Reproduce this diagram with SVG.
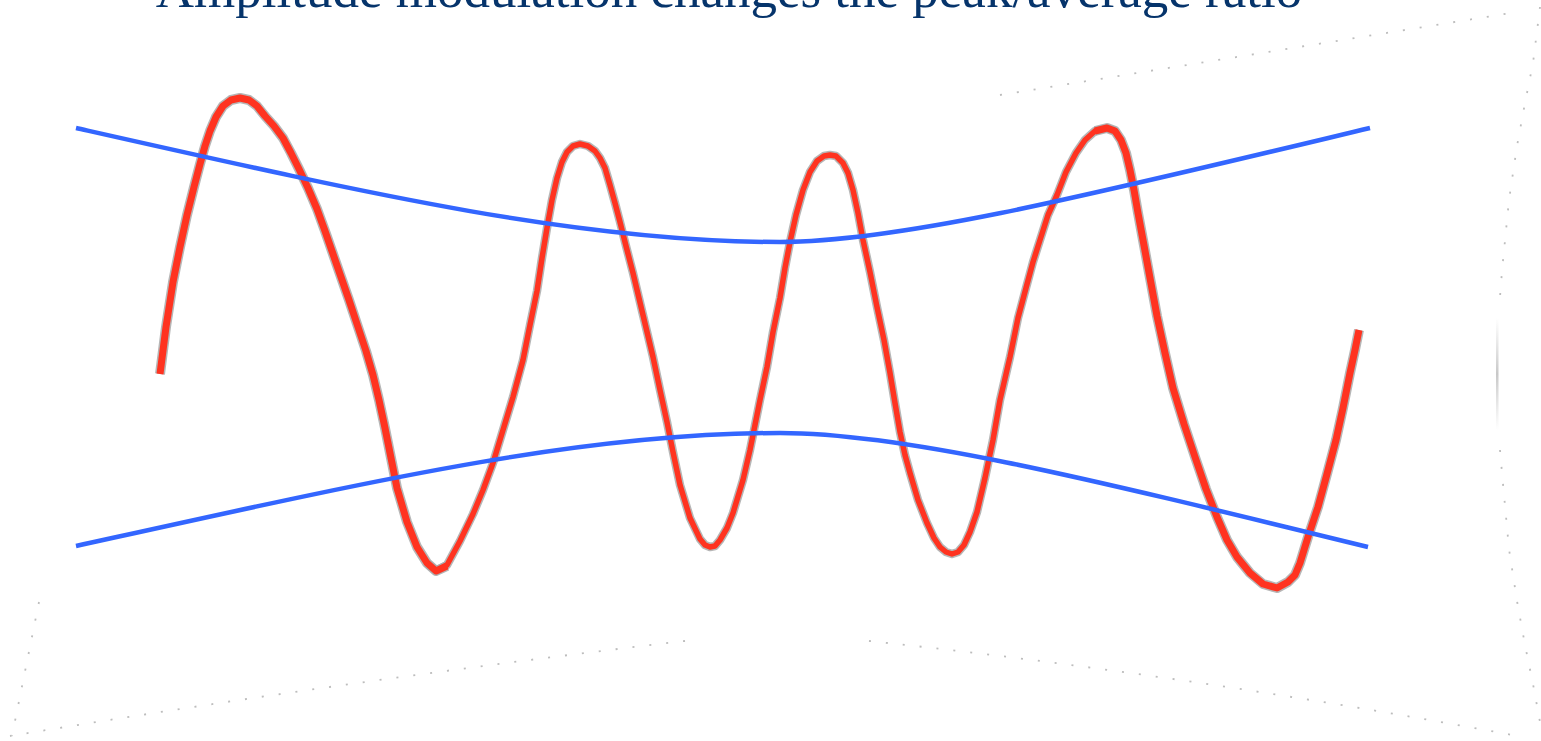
<svg xmlns="http://www.w3.org/2000/svg" width="1541" height="741" viewBox="0 0 1541 741">
  <defs>
    <style>
      .title { font-family: "Liberation Serif", "Times New Roman", serif; font-size: 53px; fill: #06346b; }
      .frame { fill: none; stroke: #bdbdbd; stroke-width: 1.8; stroke-dasharray: 2 15; }
      .halo { fill: none; stroke: #a9a9a9; stroke-linejoin: round; stroke-linecap: butt; opacity: 0.85; }
      .sig { fill: none; stroke: #ff3320; stroke-linejoin: round; stroke-linecap: butt; }
      .env { fill: none; stroke: #3366ff; stroke-width: 4.5; stroke-linecap: butt; }
    </style>
    <linearGradient id="barGrad" x1="0" y1="0" x2="0" y2="1">
      <stop offset="0" stop-color="#d0d0d0" stop-opacity="0"/>
      <stop offset="0.5" stop-color="#c8c8c8" stop-opacity="1"/>
      <stop offset="1" stop-color="#d0d0d0" stop-opacity="0"/>
    </linearGradient>
  </defs>

  <rect width="1541" height="741" fill="#ffffff"/>

  <g id="frame">
    <path class="frame" d="M1000,95 L1517,12"/>
    <path class="frame" d="M1540,7 L1533,63 L1525,103 L1517,146 L1509,200 L1502,271 L1499,310"/>
    <rect x="1496" y="318" width="2.5" height="112" fill="url(#barGrad)"/>
    <path class="frame" d="M1500,450 L1502,473 L1509,549 L1517,601 L1525,645 L1533,684 L1540,722"/>
    <path class="frame" d="M869,641 Q1190,675 1518,736"/>
    <path class="frame" d="M685,641 Q350,680 10,736"/>
    <path class="frame" d="M39,602 L12,736"/>
  </g>

  <g id="title">
    <text class="title" x="729" y="7" text-anchor="middle">Amplitude modulation changes the peak/average ratio</text>
  </g>

  <g id="signal">
    <polyline class="halo" stroke-width="10" points="160,374 166,327 173,282 180,247 187,215 194,187 200,164 205,146 210,131 216,117 223,106 231,100 240,98 249,100 257,106 265,116 274,126 283,138 291,153 299,169 308,188 317,209 325,231 333,254 341,277 349,300 357,324 366,351 373,375 379,400 385,428 391,458 397,488 407,522 417,547 427,563 436,571 447,566"/>
    <polyline class="halo" stroke-width="8.5" points="427,563 436,571 447,565 460,541 473,514 483,490 493,463 503,430 513,397 523,360 530,325 537,291 542,258 547,228 552,200 557,178 562,162 567,152 573,146 580,144 588,146 595,151 600,158 605,168 610,185 615,203 620,222 626,246 633,273 643,315 653,357 660,390 667,422 673,452 680,485 690,518 700,539 705,545 710,547 715,546 720,540 727,528 733,513 743,480 750,450 760,400 767,367 773,332 780,298 785,268 790,242 796,215 803,190 810,172 817,161 824,156 830,155 836,156 843,163 848,173 853,190 858,213 863,240 870,272 877,307 884,340 890,373 895,403 900,432 905,455 910,473 918,500 927,523 934,538 940,547 946,552 952,554 958,552 964,545 970,532 977,512 985,478 993,440 1000,400 1010,357 1018,318 1026,288 1033,262 1040,240 1048,215 1057,195 1066,172 1076,153 1085,140 1095,131 1107,128 1115,131"/>
    <polyline class="halo" stroke-width="10" points="1095,131 1107,128 1115,131 1121,140 1126,153 1130,170 1134,190 1138,213 1143,240 1150,278 1157,316 1165,353 1173,388 1184,424 1195,457 1206,489 1217,517 1227,540 1237,557 1250,573 1263,584 1277,588 1288,582 1295,575 1300,563 1308,537 1318,507 1327,474 1336,440 1343,408 1350,373 1355,350 1359,330"/>

    <polyline class="sig" stroke-width="7" points="160,374 166,327 173,282 180,247 187,215 194,187 200,164 205,146 210,131 216,117 223,106 231,100 240,98 249,100 257,106 265,116 274,126 283,138 291,153 299,169 308,188 317,209 325,231 333,254 341,277 349,300 357,324 366,351 373,375 379,400 385,428 391,458 397,488 407,522 417,547 427,563 436,571 447,566"/>
    <polyline class="sig" stroke-width="5.5" points="427,563 436,571 447,565 460,541 473,514 483,490 493,463 503,430 513,397 523,360 530,325 537,291 542,258 547,228 552,200 557,178 562,162 567,152 573,146 580,144 588,146 595,151 600,158 605,168 610,185 615,203 620,222 626,246 633,273 643,315 653,357 660,390 667,422 673,452 680,485 690,518 700,539 705,545 710,547 715,546 720,540 727,528 733,513 743,480 750,450 760,400 767,367 773,332 780,298 785,268 790,242 796,215 803,190 810,172 817,161 824,156 830,155 836,156 843,163 848,173 853,190 858,213 863,240 870,272 877,307 884,340 890,373 895,403 900,432 905,455 910,473 918,500 927,523 934,538 940,547 946,552 952,554 958,552 964,545 970,532 977,512 985,478 993,440 1000,400 1010,357 1018,318 1026,288 1033,262 1040,240 1048,215 1057,195 1066,172 1076,153 1085,140 1095,131 1107,128 1115,131"/>
    <polyline class="sig" stroke-width="7" points="1095,131 1107,128 1115,131 1121,140 1126,153 1130,170 1134,190 1138,213 1143,240 1150,278 1157,316 1165,353 1173,388 1184,424 1195,457 1206,489 1217,517 1227,540 1237,557 1250,573 1263,584 1277,588 1288,582 1295,575 1300,563 1308,537 1318,507 1327,474 1336,440 1343,408 1350,373 1355,350 1359,330"/>
  </g>

  <g id="envelope-upper">
    <path class="env" d="M76,128 C376,195.5 580,242 780,242 C900,242 1090,195 1370,128"/>
  </g>
  <g id="envelope-lower">
    <path class="env" d="M76,546 C376,480 580,433 780,433 C900,433 1068,473.5 1368,547"/>
  </g>
</svg>
